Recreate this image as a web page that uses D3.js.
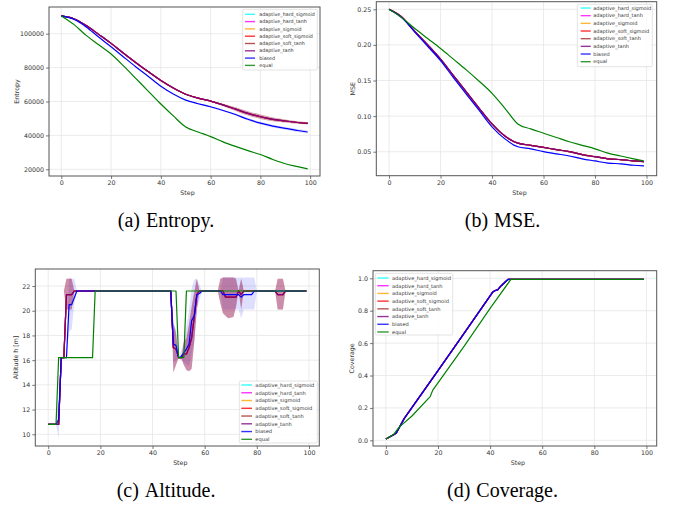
<!DOCTYPE html>
<html>
<head>
<meta charset="utf-8">
<script src="https://cdn.jsdelivr.net/npm/d3@7"></script>
<style>
  body { margin: 0; background: #fff; }
  svg { display: block; }
  .tick text { fill: #333; }
</style>
</head>
<body>
<div id="chart"></div>
<script>

// series names and colours (same legend in all four panels)
const seriesNames = ["adaptive_hard_sigmoid", "adaptive_hard_tanh", "adaptive_sigmoid",
    "adaptive_soft_sigmoid", "adaptive_soft_tanh", "adaptive_tanh", "biased", "equal"];
const seriesColors = ["cyan", "magenta", "orange", "red", "brown", "purple", "blue", "green"];

// steps at which the smooth curves were read
const steps = [0, 5, 10, 15, 20, 25, 30, 35, 40, 45, 50, 55, 60, 65, 70, 75, 80, 85, 90, 95, 99];
const xTicks = [0, 20, 40, 60, 80, 100];

// (a) entropy
const entropyAdaptive = [110500, 108800, 104800, 99600, 94300, 88500, 82900, 77500, 72400, 68000, 64300,
    62000, 60200, 58000, 55500, 53000, 51000, 49500, 48500, 47600, 47100];
const entropyBiased = [110500, 108500, 104000, 98000, 92300, 86300, 80400, 74800, 69000, 64400, 60800,
    58700, 56900, 54700, 52300, 49500, 47200, 45500, 44100, 42900, 42000];
const entropyEqual = [110500, 105500, 99000, 93500, 88000, 81000, 73500, 66000, 58500, 51500, 45000,
    42000, 39300, 36200, 33500, 31000, 28700, 25800, 23300, 21600, 20300];
const entropyAdaptiveSpread = [0, 0, 0, 0, 0, 0, 0, 0, 0, 0, 0, 0, 300, 700, 1100, 1300, 1300, 1100, 900, 700, 600];
const entropyBiasedSpread = [0, 0, 0, 0, 0, 0, 0, 0, 0, 0, 0, 200, 400, 500, 600, 700, 800, 800, 800, 900, 900];
const entropyTicks = [20000, 40000, 60000, 80000, 100000];

// (b) MSE
const mseAdaptive = [0.250, 0.239, 0.219, 0.200, 0.180, 0.157, 0.134, 0.111, 0.089, 0.072, 0.062,
    0.059, 0.056, 0.053, 0.050, 0.046, 0.043, 0.040, 0.039, 0.037, 0.036];
const mseBiased = [0.250, 0.238, 0.218, 0.198, 0.178, 0.154, 0.131, 0.108, 0.085, 0.068, 0.057,
    0.054, 0.050, 0.047, 0.044, 0.040, 0.037, 0.034, 0.033, 0.031, 0.030];
const mseEqual = [0.250, 0.238, 0.223, 0.209, 0.195, 0.180, 0.165, 0.149, 0.132, 0.111, 0.089,
    0.082, 0.076, 0.070, 0.064, 0.059, 0.054, 0.048, 0.044, 0.040, 0.037];
const mseAdaptiveSpread = [0, 0, 0, 0, 0, 0, 0, 0, 0, 0, 0, 0, 0.0005, 0.0008, 0.001, 0.0012, 0.0012, 0.001, 0.0008, 0.0006, 0.0005];
const mseBiasedSpread = [0, 0, 0, 0, 0, 0, 0, 0, 0, 0, 0, 0, 0.0004, 0.0005, 0.0006, 0.0006, 0.0007, 0.0007, 0.0007, 0.0007, 0.0007];
const mseTicks = [0.05, 0.10, 0.15, 0.20, 0.25];

// (c) altitude, [step, value] breakpoints
const altitudeAdaptive = [[0, 10.8], [4, 10.8], [5, 16.2], [6, 16.2], [7, 21.3], [9, 21.3], [10, 21.6], [47, 21.6],
    [48, 17.0], [49, 16.9], [50, 16.2], [51, 16.2], [52, 16.5], [53, 16.5], [54, 17.0], [55, 17.8], [56, 19.5],
    [57, 21.3], [58, 21.6], [67, 21.6], [68, 21.1], [72, 21.1], [73, 21.6], [74, 21.3], [75, 21.6], [87, 21.6],
    [88, 21.3], [90, 21.3], [91, 21.6], [99, 21.6]];
const altitudeBiased = [[0, 10.8], [3, 10.8], [4, 11.2], [5, 16.2], [7, 16.2], [8, 20.5], [9, 20.5], [11, 21.6],
    [47, 21.6], [48, 17.3], [49, 17.2], [50, 16.2], [51, 16.3], [52, 16.6], [53, 16.9], [54, 17.3], [55, 19.2],
    [56, 19.6], [57, 21.3], [58, 21.4], [59, 21.6], [66, 21.6], [67, 21.3], [73, 21.3], [74, 21.1], [75, 21.3],
    [78, 21.3], [79, 21.6], [99, 21.6]];
const altitudeEqual = [[0, 10.8], [3, 10.8], [4, 16.2], [17, 16.2], [18, 21.6], [49, 21.6], [50, 16.2],
    [52, 16.2], [53, 21.6], [99, 21.6]];
// [step, low, high]
const altitudeAdaptiveBand = [[6, 21.6, 21.6], [7, 20.1, 22.6], [9, 20.1, 22.6], [10, 21.6, 21.6],
    [47, 21.6, 21.6], [48, 15.0, 19.0], [49, 15.6, 18.2], [50, 16.2, 16.2], [51, 16.2, 16.2], [52, 15.6, 17.4],
    [53, 15.2, 17.8], [54, 15.1, 18.9], [55, 15.3, 20.3], [56, 17.5, 21.5], [57, 20.1, 22.6], [58, 21.6, 21.6],
    [65, 21.6, 21.6], [66, 20.6, 22.6], [67, 19.8, 22.7], [69, 19.4, 22.7], [71, 19.5, 22.7], [72, 20.3, 22.6],
    [73, 21.6, 21.6], [74, 20.1, 22.6], [75, 21.6, 21.6], [87, 21.6, 21.6], [88, 20.1, 22.6], [90, 20.1, 22.6],
    [91, 21.6, 21.6]];
const altitudeBiasedBand = [[3, 10.8, 10.8], [4, 9.7, 12.7], [5, 16.2, 16.2], [7, 16.2, 16.2], [8, 18.3, 22.7],
    [9, 18.5, 22.6], [10, 20.5, 22.6], [11, 21.6, 21.6], [47, 21.6, 21.6], [48, 15.8, 19.0], [49, 16.0, 18.5],
    [50, 16.2, 16.2], [52, 15.8, 17.5], [54, 15.5, 20.0], [55, 16.5, 21.8], [56, 17.5, 22.5], [57, 20.1, 22.6],
    [59, 21.6, 21.6], [66, 21.6, 21.6], [67, 20.1, 22.7], [73, 20.1, 22.7], [74, 19.4, 22.7], [75, 20.1, 22.7],
    [79, 20.1, 22.7], [80, 21.6, 21.6]];
const altitudeTicks = [10, 12, 14, 16, 18, 20, 22];

// (d) coverage, [step, value] breakpoints
const coverageAdaptive = [[0, 0.008], [3, 0.035], [4, 0.045], [7, 0.134], [20, 0.43], [30, 0.66], [41, 0.915],
    [42, 0.925], [43, 0.93], [44, 0.95], [45, 0.965], [46, 0.98], [47, 0.994], [99, 0.994]];
const coverageBiased = [[0, 0.008], [3, 0.035], [4, 0.045], [7, 0.134], [20, 0.43], [30, 0.66], [41, 0.915],
    [42, 0.925], [43, 0.93], [44, 0.95], [45, 0.965], [46, 0.98], [47, 0.994], [99, 0.994]];
const coverageEqual = [[0, 0.008], [3, 0.037], [5, 0.08], [10, 0.15], [17, 0.27], [18, 0.31], [30, 0.58],
    [40, 0.815], [48, 0.994], [99, 0.994]];
const coverageTicks = [0.0, 0.2, 0.4, 0.6, 0.8, 1.0];

const captions = [["(a)", "Entropy."], ["(b)", "MSE."], ["(c)", "Altitude."], ["(d)", "Coverage."]];

const width = 673, height = 506;
const svg = d3.select("#chart").append("svg")
    .attr("width", width)
    .attr("height", height);

// build [step, value] pairs from the step list
const pairs = vals => d3.zip(steps, vals);
const bandPairs = (vals, spread) => steps.map((s, i) => [s, vals[i] - spread[i], vals[i] + spread[i]]);

function seriesData(adaptive, biased, equal) {
    return seriesNames.map((n, i) => i < 6 ? adaptive : (i === 6 ? biased : equal));
}

const panels = [
    {
        box: [49, 7, 320, 176], yDomain: [16050, 115750], yTicks: entropyTicks, fmt: d3.format("d"),
        ylabel: "Entropy", ylabelX: 17, curve: d3.curveMonotoneX,
        lines: seriesData(pairs(entropyAdaptive), pairs(entropyBiased), pairs(entropyEqual)),
        bands: [
            {data: bandPairs(entropyBiased, entropyBiasedSpread), color: "blue", op: 0.15},
            {data: bandPairs(entropyAdaptive, entropyAdaptiveSpread), color: "brown", op: 0.3},
            {data: bandPairs(entropyAdaptive, entropyAdaptiveSpread), color: "purple", op: 0.15}
        ],
        legend: {x0: 242.7, y0: 9.3, x1: 317.3, y1: 70, first: 14.3, dy: 7.3, hx0: 245, hx1: 255, tx: 259.3, fs: 4.8},
        caption: 0, capX: 166, capY: 226.5
    },
    {
        box: [376.3, 1.7, 656.7, 175.7], yDomain: [0.0163, 0.2607], yTicks: mseTicks, fmt: d3.format(".2f"),
        ylabel: "MSE", ylabelX: 352.7, curve: d3.curveMonotoneX,
        lines: seriesData(pairs(mseAdaptive), pairs(mseBiased), pairs(mseEqual)),
        bands: [
            {data: bandPairs(mseBiased, mseBiasedSpread), color: "blue", op: 0.15},
            {data: bandPairs(mseAdaptive, mseAdaptiveSpread), color: "brown", op: 0.3},
            {data: bandPairs(mseAdaptive, mseAdaptiveSpread), color: "purple", op: 0.15}
        ],
        legend: {x0: 577.3, y0: 4.3, x1: 652.3, y1: 66.7, first: 8, dy: 7.67, hx0: 580.7, hx1: 590.7, tx: 593.3, fs: 5},
        caption: 1, capX: 502.5, capY: 226.5
    },
    {
        box: [35.3, 269, 319.3, 446], yDomain: [9.05, 23.38], yTicks: altitudeTicks, fmt: d3.format("d"),
        ylabel: "Altitude h [m]", ylabelX: 15.7, curve: d3.curveLinear,
        lines: seriesData(altitudeAdaptive, altitudeBiased, altitudeEqual),
        bands: [
            {data: altitudeBiasedBand, color: "blue", op: 0.13},
            {data: altitudeAdaptiveBand, color: "brown", op: 0.35},
            {data: altitudeAdaptiveBand, color: "purple", op: 0.22}
        ],
        legend: {x0: 239.3, y0: 381, x1: 317.3, y1: 443, first: 385, dy: 7.76, hx0: 241.3, hx1: 252, tx: 255.3, fs: 5.1},
        caption: 2, capX: 166, capY: 497.3
    },
    {
        box: [373, 270.7, 656.7, 446], yDomain: [-0.035, 1.047], yTicks: coverageTicks, fmt: d3.format(".1f"),
        ylabel: "Coverage", ylabelX: 352, curve: d3.curveLinear,
        lines: seriesData(coverageAdaptive, coverageBiased, coverageEqual),
        bands: [],
        legend: {x0: 375.3, y0: 273.3, x1: 452.7, y1: 335, first: 278, dy: 7.71, hx0: 377.3, hx1: 388.7, tx: 392, fs: 5.1},
        caption: 3, capX: 502.5, capY: 497.3
    }
];

panels.forEach(drawPanel);

function drawPanel(p) {

    const [left, top, right, bottom] = p.box;
    const g = svg.append("g");

    const x = d3.scaleLinear().domain([-4.95, 103.95]).range([left, right]);
    const y = d3.scaleLinear().domain(p.yDomain).range([bottom, top]);

    // grid lines
    g.selectAll(".gridX").data(xTicks).enter()
        .append("line")
        .attr("x1", d => x(d)).attr("x2", d => x(d))
        .attr("y1", top).attr("y2", bottom)
        .attr("stroke", "#e6e6e6").attr("stroke-width", 0.8);
    g.selectAll(".gridY").data(p.yTicks).enter()
        .append("line")
        .attr("x1", left).attr("x2", right)
        .attr("y1", d => y(d)).attr("y2", d => y(d))
        .attr("stroke", "#e6e6e6").attr("stroke-width", 0.8);

    // std bands
    const area = d3.area()
        .x(d => x(d[0]))
        .y0(d => y(d[1]))
        .y1(d => y(d[2]))
        .curve(p.curve);
    p.bands.forEach(b => {
        g.append("path")
            .attr("d", area(b.data))
            .attr("fill", b.color)
            .attr("fill-opacity", b.op)
            .attr("stroke", "none");
    });

    // mean lines
    const line = d3.line()
        .x(d => x(d[0]))
        .y(d => y(d[1]))
        .curve(p.curve);
    p.lines.forEach((data, i) => {
        g.append("path")
            .attr("d", line(data))
            .attr("fill", "none")
            .attr("stroke", seriesColors[i])
            .attr("stroke-width", 1.2)
            .attr("stroke-linejoin", "round");
    });

    // axes
    const xAxis = g.append("g")
        .attr("transform", `translate(0,${bottom})`)
        .call(d3.axisBottom(x).tickValues(xTicks).tickSize(3).tickPadding(2).tickFormat(d3.format("d")));
    const yAxis = g.append("g")
        .attr("transform", `translate(${left},0)`)
        .call(d3.axisLeft(y).tickValues(p.yTicks).tickSize(3).tickPadding(2).tickFormat(p.fmt));
    [xAxis, yAxis].forEach(a => {
        a.select(".domain").remove();
        a.attr("font-size", 6.3).attr("font-family", "DejaVu Sans");
        a.selectAll(".tick line").attr("stroke", "#555").attr("stroke-width", 0.8);
    });

    // frame
    g.append("rect")
        .attr("x", left).attr("y", top)
        .attr("width", right - left).attr("height", bottom - top)
        .attr("fill", "none")
        .attr("stroke", "#555")
        .attr("stroke-width", 1);

    // axis labels
    g.append("text")
        .attr("x", (left + right) / 2 + 3)
        .attr("y", bottom + 19)
        .attr("text-anchor", "middle")
        .attr("font-family", "DejaVu Sans")
        .attr("font-size", 6.3)
        .attr("fill", "#333")
        .text("Step");
    g.append("text")
        .attr("transform", `translate(${p.ylabelX},${(top + bottom) / 2}) rotate(-90)`)
        .attr("text-anchor", "middle")
        .attr("dy", "0.35em")
        .attr("font-family", "DejaVu Sans")
        .attr("font-size", 6.3)
        .attr("fill", "#333")
        .text(p.ylabel);

    // legend
    const L = p.legend;
    g.append("rect")
        .attr("x", L.x0).attr("y", L.y0)
        .attr("width", L.x1 - L.x0).attr("height", L.y1 - L.y0)
        .attr("rx", 1.5)
        .attr("fill", "white").attr("fill-opacity", 0.85)
        .attr("stroke", "#d0d0d0").attr("stroke-width", 0.6);
    const items = g.selectAll(".legendItem")
        .data(seriesNames)
        .enter()
        .append("g")
        .attr("transform", (d, i) => `translate(0,${L.first + i * L.dy})`);
    items.append("line")
        .attr("x1", L.hx0).attr("x2", L.hx1)
        .attr("stroke", (d, i) => seriesColors[i])
        .attr("stroke-opacity", 0.8)
        .attr("stroke-width", 1.4);
    items.append("text")
        .attr("x", L.tx)
        .attr("dy", "0.35em")
        .attr("font-family", "DejaVu Sans")
        .attr("font-size", L.fs)
        .attr("fill", "#333")
        .text(d => d);

    // caption
    const cap = captions[p.caption];
    const t = svg.append("text")
        .attr("x", p.capX)
        .attr("y", p.capY)
        .attr("text-anchor", "middle")
        .attr("font-family", "Liberation Serif, Times New Roman, serif")
        .attr("font-size", 20)
        .attr("fill", "#000");
    t.append("tspan").text(cap[0]);
    t.append("tspan").attr("dx", 6).text(cap[1]);
}

</script>
</body>
</html>
